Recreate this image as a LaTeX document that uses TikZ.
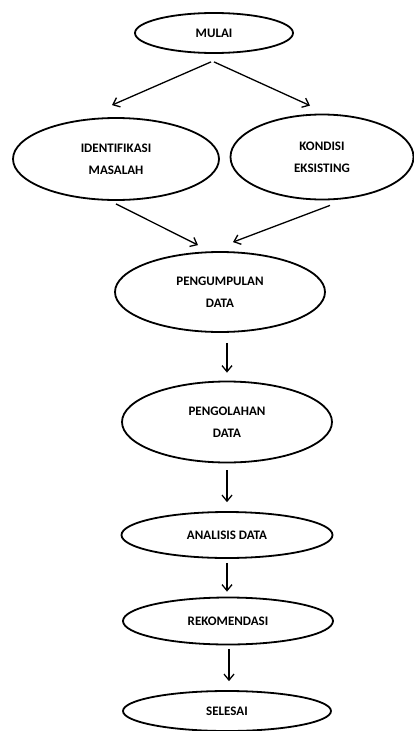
\documentclass[tikz,border=0pt]{standalone}
\usepackage{fontspec}
\setmainfont{Carlito}
\usetikzlibrary{shapes.geometric,arrows.meta}

\begin{document}
\begin{tikzpicture}[x=1pt,y=-1pt,
  proses/.style={draw=black,line width=1.8pt,ellipse,inner sep=0pt,align=center,
    font=\fontsize{13}{22}\selectfont\bfseries},
  panah/.style={draw=black,line width=1.3pt,-{Straight Barb[length=6pt,width=10pt,line width=1.3pt]}}]
\useasboundingbox (0,0) rectangle (414,731);
% simpul
\node[proses,minimum width=158pt,minimum height=40pt] (mulai) at (214,33) {MULAI};
\node[proses,minimum width=206pt,minimum height=82pt] (identifikasi) at (116,159) {IDENTIFIKASI\\MASALAH};
\node[proses,minimum width=183pt,minimum height=85pt] (kondisi) at (322,157) {KONDISI\\EKSISTING};
\node[proses,minimum width=210pt,minimum height=80pt] (pengumpulan) at (220,292) {PENGUMPULAN\\DATA};
\node[proses,minimum width=210pt,minimum height=81pt] (pengolahan) at (227,422) {PENGOLAHAN\\DATA};
\node[proses,minimum width=211pt,minimum height=46pt] (analisis) at (227,535) {ANALISIS DATA};
\node[proses,minimum width=210pt,minimum height=47pt] (rekomendasi) at (228,621) {REKOMENDASI};
\node[proses,minimum width=208pt,minimum height=40pt] (selesai) at (227,711) {SELESAI};
% panah
\draw[panah] ([xshift=-3pt,yshift=-8pt]mulai.south) -- ([xshift=-4pt,yshift=12pt]identifikasi.north);
\draw[panah] ([yshift=-8pt]mulai.south) -- ([xshift=-12pt,yshift=8pt]kondisi.north);
\draw[panah] ([yshift=-3pt]identifikasi.south) -- ([xshift=-22pt,yshift=6pt]pengumpulan.north);
\draw[panah] ([xshift=8pt,yshift=-5pt]kondisi.south) -- ([xshift=13pt,yshift=9pt]pengumpulan.north);
\draw[panah] ([yshift=-10pt]pengumpulan.south -| pengolahan) -- ([yshift=8pt]pengolahan.north);
\draw[panah,shorten <=7pt,shorten >=9pt] (pengolahan) -- (analisis);
\draw[panah,shorten <=4pt,shorten >=5pt] (analisis) -- (analisis |- rekomendasi.north);
\draw[panah] ([xshift=1pt,yshift=-4pt]rekomendasi.south) -- ([xshift=2pt,yshift=9pt]selesai.north);
\end{tikzpicture}
\end{document}
